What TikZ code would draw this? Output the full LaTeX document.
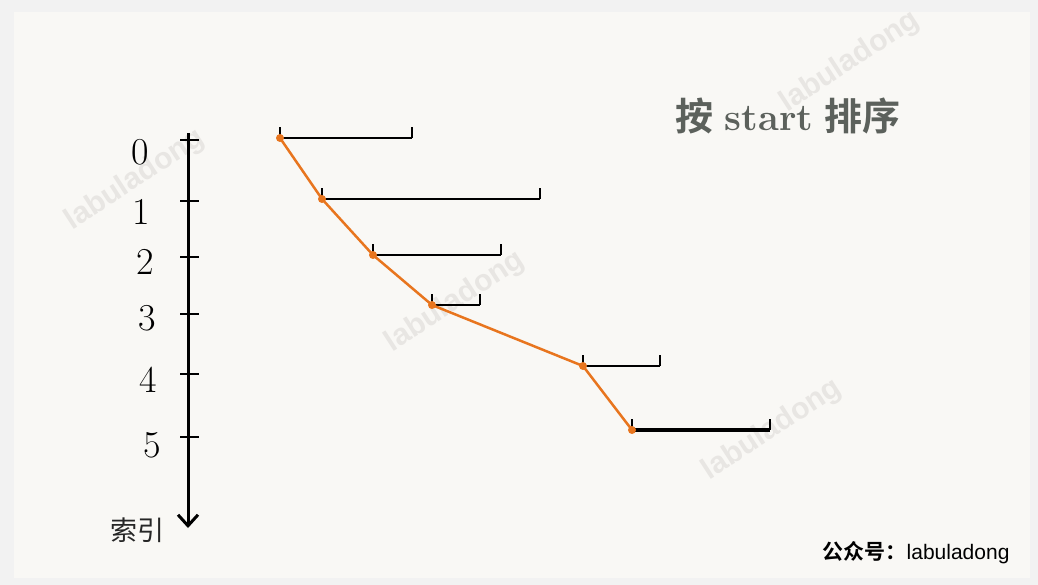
\documentclass[tikz,border=0pt]{standalone}
\usepackage{fontspec}
\newfontfamily\cjk{Noto Sans CJK SC}
\newfontfamily\cjkb{Noto Sans CJK SC Bold}
\newfontfamily\labsans{Liberation Sans}
\usetikzlibrary{arrows.meta,positioning}
\definecolor{paper}{HTML}{F9F8F5}
\definecolor{frame}{HTML}{F2F2F2}
\definecolor{pathorange}{HTML}{E8751E}
\definecolor{titlegrey}{HTML}{5C615C}
\definecolor{wmark}{HTML}{E8E6E3}

\begin{document}
\begin{tikzpicture}[
    x=1pt, y=-1pt,
    axisline/.style={line width=3pt, -{Straight Barb[length=11pt,width=20pt,line width=3pt]}},
    tickmark/.style={line width=2.6pt},
    span/.style={line width=2.8pt},
    dot/.style={circle, fill=pathorange, inner sep=0pt, minimum size=8pt},
    idx/.style={font=\fontsize{38}{38}\selectfont, text=black},
    wm/.style={font=\labsans\bfseries\fontsize{30}{30}\selectfont, text=wmark, rotate=33}
]
% page
\fill[frame] (0,0) rectangle (1038,585);
\fill[paper] (14,12) rectangle (1030,578);
\useasboundingbox (0,0) rectangle (1038,585);

% watermarks
\node[wm] (w1) at (135,180) {labuladong};
\node[wm] (w2) at (455,302) {labuladong};
\node[wm] (w3) at (772,430) {labuladong};
\node[wm] (w4) at (850,62) {labuladong};

% title
\node[text=titlegrey, font=\fontsize{38}{38}\selectfont] (title) at (788,116)
    {{\cjkb 按} \textbf{start} {\cjkb 排序}};

% index axis
\coordinate (top) at (188,133);
\coordinate (bot) at (188,528);
\draw[axisline] (top) -- (bot);
\node[font=\cjk\fontsize{27}{27}\selectfont, text=black!85] (lbl) at (137,530) {索引};

\foreach \i/\ty/\lx/\ly in {0/140/140/152, 1/201/141/212, 2/257/145/262, 3/314/147/318, 4/374/148/380, 5/437/152/445}{
    \draw[tickmark] (180,\ty) -- (199,\ty);
    \node[idx] (n\i) at (\lx,\ly) {\i};
}

% intervals, sorted by start
\foreach \i/\sx/\ex/\yy/\w in {0/280/412/138/2.6, 1/322/540/199/2.8, 2/373/501/255/2.8, 3/432/480/305/2.8, 4/583/660/366/2.8, 5/632/770/430/4}{
    \coordinate (s\i) at (\sx,\yy);
    \coordinate (e\i) at (\ex,\yy);
    \draw[span, line width=\w pt] (s\i) -- (e\i);
    \draw[tickmark] (s\i) -- ++(0,-11);
    \draw[tickmark] (e\i) -- ++(0,-11);
}

% start points
\draw[pathorange, line width=2.5pt, line join=round] (s0) -- (s1) -- (s2) -- (s3) -- (s4) -- (s5);
\foreach \i in {0,...,5}
    \node[dot] (d\i) at (s\i) {};

% footer
\node[anchor=east, font=\fontsize{21}{21}\selectfont] (foot) at (1013,553)
    {{\cjkb 公众号：}{\labsans labuladong}};
\end{tikzpicture}
\end{document}
